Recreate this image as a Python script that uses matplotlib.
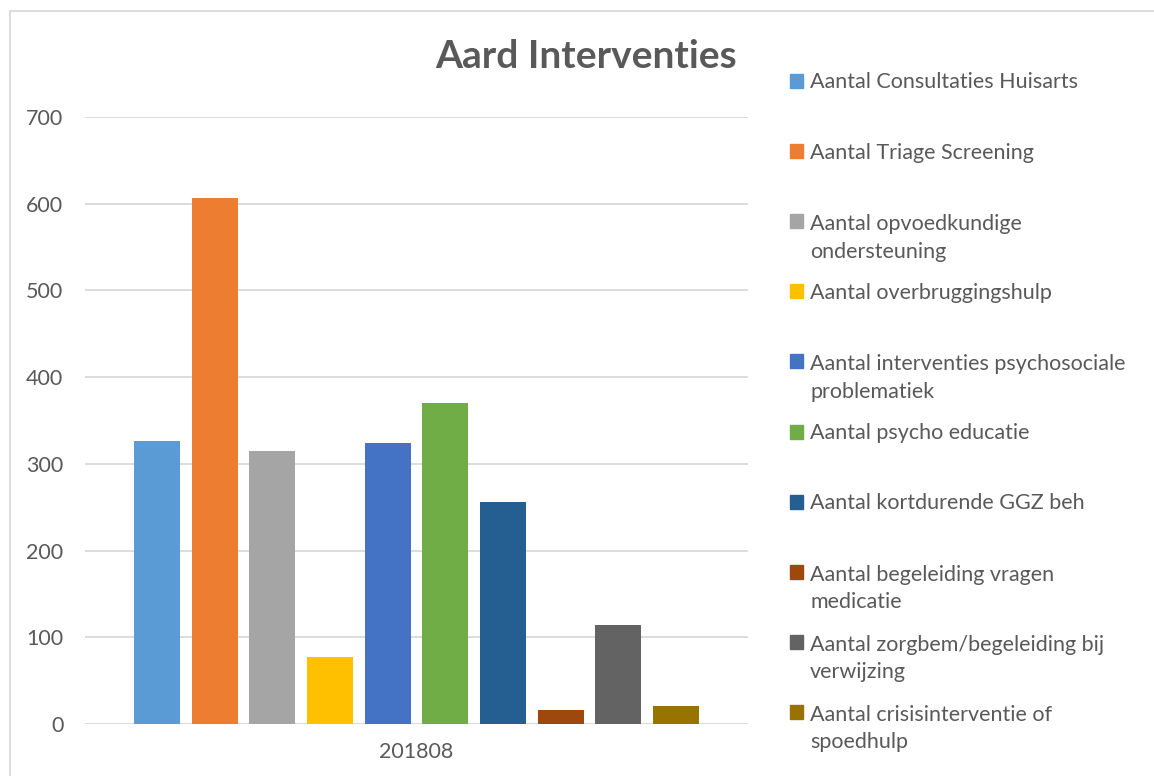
import matplotlib.pyplot as plt
import matplotlib.patches as mpatches
import numpy as np

plt.rcParams['font.family'] = ['Lato', 'DejaVu Sans']

categories = ['201808']
labels = [
    'Aantal Consultaties Huisarts',
    'Aantal Triage Screening',
    'Aantal opvoedkundige\nondersteuning',
    'Aantal overbruggingshulp',
    'Aantal interventies psychosociale\nproblematiek',
    'Aantal psycho educatie',
    'Aantal kortdurende GGZ beh',
    'Aantal begeleiding vragen\nmedicatie',
    'Aantal zorgbem/begeleiding bij\nverwijzing',
    'Aantal crisisinterventie of\nspoedhulp',
]
values = [326, 607, 315, 77, 324, 370, 256, 16, 114, 21]
colors = ['#5B9BD5', '#ED7D31', '#A5A5A5', '#FFC000', '#4472C4',
          '#70AD47', '#255E91', '#9E480E', '#636363', '#997300']
yticks = [0, 100, 200, 300, 400, 500, 600, 700]

text_color = '#595959'
W, H = 1154, 776

fig = plt.figure(figsize=(W / 100, H / 100), dpi=100)
ax = fig.add_axes([85 / W, 1 - 724 / H, (748 - 85) / W, (724 - 117) / H])

n = len(values)
pitch = 0.087
width = 0.0694
x = np.arange(n) * pitch - (n - 1) * pitch / 2
ax.bar(x, values, width, color=colors, zorder=3)

ax.set_xlim(-0.5, 0.5)
ax.set_ylim(0, 700)
ax.set_yticks(yticks)
ax.set_xticks([0])
ax.set_xticklabels(categories)
ax.tick_params(axis='both', length=0, labelsize=15.5, labelcolor=text_color)
ax.tick_params(axis='y', pad=15.5)
ax.tick_params(axis='x', pad=13)
ax.grid(axis='y', color='#D9D9D9', linewidth=1.3, zorder=0)
for s in ax.spines.values():
    s.set_visible(False)

fig.text(586 / W, 1 - 68 / H, 'Aard Interventies', ha='center', va='baseline',
         fontsize=28, fontweight='bold', color=text_color)

# legend drawn by hand to mimic evenly spaced entries
step = 70.1
line_px = 29
for i, (lab, c) in enumerate(zip(labels, colors)):
    yc = 81 + step * i
    fig.patches.append(mpatches.Rectangle((790 / W, 1 - (yc + 7) / H), 13 / W, 14 / H,
                                          transform=fig.transFigure, color=c))
    # baseline alignment refers to the last line of multi-line text
    yb = yc + 7.5 + line_px * lab.count('\n')
    fig.text(810 / W, 1 - yb / H, lab, ha='left', va='baseline',
             fontsize=15.5, color=text_color, linespacing=1.48)

# chart border
fig.patches.append(mpatches.Rectangle((10 / W, -0.1), 1.2, 1 - 11 / H + 0.1,
                                      transform=fig.transFigure, fill=False,
                                      edgecolor='#D9D9D9', linewidth=1.3))

fig.savefig('out.png', dpi=100)
